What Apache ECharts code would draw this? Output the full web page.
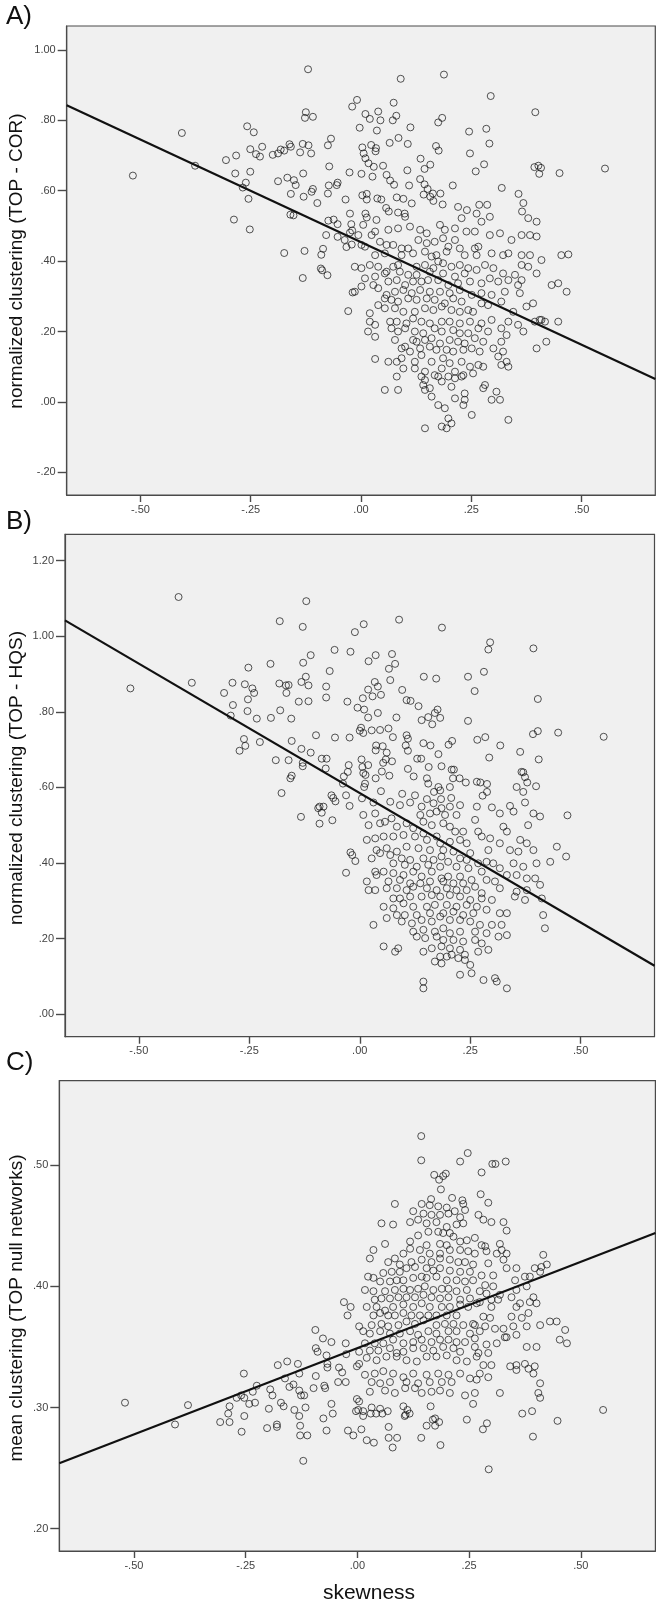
<!DOCTYPE html>
<html><head><meta charset="utf-8">
<script src="https://cdn.jsdelivr.net/npm/echarts@6/dist/echarts.min.js"></script>
<style>html,body{margin:0;padding:0;background:#fff}#c{width:664px;height:1606px}</style>
</head><body><div id="c"></div>
<script>
const xRange = [-0.667, 0.667];
const xTicks = [-0.5, -0.25, 0, 0.25, 0.5];
const yRangeA = [-0.2645, 1.068];
const yTicksA = [-0.2, 0, 0.2, 0.4, 0.6, 0.8, 1.0];
const yRangeB = [-0.060, 1.270];
const yTicksB = [0, 0.2, 0.4, 0.6, 0.8, 1.0, 1.2];
const yRangeC = [0.1816, 0.5697];
const yTicksC = [0.2, 0.3, 0.4, 0.5];
const panelLabels = ['A)', 'B)', 'C)'];
const yTitles = ['normalized clustering (TOP - COR)', 'normalized clustering (TOP - HQS)', 'mean clustering (TOP null networks)'];
const xTitle = 'skewness';
const fitA = [[-0.667, 0.843], [0.667, 0.065]];
const fitB = [[-0.667, 1.042], [0.667, 0.128]];
const fitC = [[-0.667, 0.254], [0.667, 0.444]];

const ptsA = [[-0.120,0.945],[0.188,0.930],[0.090,0.918],[0.294,0.869],[-0.009,0.858],[0.074,0.850],[-0.020,0.839],[0.395,0.823],[-0.125,0.823],[-0.109,0.810],[-0.127,0.807],[0.010,0.818],[0.020,0.804],[0.039,0.825],[0.044,0.800],[0.080,0.813],[0.072,0.800],[0.184,0.807],[0.175,0.794],[-0.406,0.764],[0.112,0.780],[-0.003,0.779],[0.036,0.771],[0.245,0.768],[0.284,0.776],[-0.258,0.783],[-0.243,0.766],[0.085,0.750],[-0.068,0.748],[0.065,0.736],[0.106,0.733],[0.291,0.734],[-0.075,0.729],[-0.132,0.733],[-0.119,0.729],[-0.162,0.732],[-0.159,0.725],[-0.224,0.725],[-0.251,0.718],[-0.174,0.714],[-0.182,0.717],[-0.188,0.706],[-0.200,0.702],[-0.238,0.704],[-0.229,0.697],[-0.283,0.700],[-0.306,0.687],[-0.138,0.709],[-0.113,0.706],[0.003,0.723],[0.023,0.730],[0.034,0.721],[0.033,0.712],[0.006,0.706],[0.010,0.692],[0.170,0.727],[0.176,0.714],[0.247,0.706],[0.017,0.678],[0.135,0.691],[0.279,0.675],[0.157,0.674],[-0.072,0.669],[-0.376,0.671],[0.393,0.667],[0.402,0.671],[0.408,0.665],[0.553,0.663],[-0.517,0.643],[0.450,0.650],[0.404,0.648],[0.029,0.668],[0.050,0.671],[0.144,0.662],[0.105,0.658],[0.260,0.655],[-0.285,0.649],[-0.251,0.654],[-0.131,0.649],[-0.026,0.652],[0.001,0.648],[0.026,0.640],[0.058,0.645],[0.066,0.629],[0.134,0.633],[-0.188,0.627],[-0.167,0.637],[-0.152,0.630],[-0.148,0.616],[-0.261,0.623],[-0.268,0.609],[-0.053,0.623],[-0.055,0.616],[-0.073,0.615],[-0.109,0.605],[-0.112,0.597],[0.319,0.608],[0.208,0.615],[0.144,0.618],[0.151,0.605],[0.109,0.615],[0.075,0.617],[-0.255,0.577],[-0.159,0.591],[-0.130,0.583],[-0.099,0.565],[-0.075,0.592],[-0.035,0.575],[0.003,0.587],[0.013,0.591],[0.013,0.575],[0.037,0.578],[0.046,0.575],[0.081,0.581],[0.096,0.577],[0.115,0.564],[0.142,0.589],[0.157,0.583],[0.163,0.592],[0.180,0.592],[0.185,0.561],[0.164,0.571],[0.357,0.591],[0.368,0.565],[0.220,0.554],[0.240,0.545],[0.268,0.560],[0.286,0.560],[0.365,0.541],[-0.288,0.518],[-0.252,0.490],[-0.160,0.532],[-0.153,0.530],[-0.025,0.535],[0.010,0.535],[0.084,0.538],[0.099,0.535],[0.057,0.551],[0.063,0.541],[0.262,0.535],[-0.074,0.515],[-0.062,0.518],[-0.053,0.505],[-0.022,0.505],[-0.020,0.487],[-0.025,0.481],[-0.079,0.474],[-0.053,0.469],[-0.037,0.460],[-0.033,0.440],[-0.021,0.447],[-0.174,0.423],[-0.128,0.429],[-0.086,0.435],[-0.090,0.418],[-0.091,0.379],[-0.088,0.374],[-0.076,0.360],[-0.132,0.352],[-0.019,0.311],[-0.029,0.258],
[0.013,0.524],[0.035,0.517],[0.100,0.526],[0.111,0.498],[0.134,0.489],[0.149,0.479],[0.179,0.503],[0.190,0.489],[0.213,0.493],[0.228,0.522],[0.239,0.484],[0.258,0.484],[0.273,0.512],[0.292,0.526],[0.292,0.474],[0.315,0.479],[0.341,0.460],[0.364,0.474],[0.379,0.522],[0.398,0.512],[0.398,0.470],[0.383,0.474],[0.005,0.503],[0.032,0.484],[0.062,0.489],[0.043,0.455],[0.084,0.493],[-0.006,0.474],
[0.024,0.474],[0.001,0.446],[0.009,0.441],[0.058,0.446],[0.073,0.446],[0.092,0.436],[0.107,0.436],[0.130,0.460],[0.149,0.451],[0.167,0.455],[0.186,0.465],[0.198,0.441],[0.213,0.460],[0.224,0.436],[0.258,0.436],[0.266,0.441],[0.296,0.422],[0.322,0.417],[0.334,0.422],[0.364,0.417],[0.383,0.417],[0.409,0.403],[0.454,0.417],[0.470,0.419],[0.032,0.417],[0.054,0.422],[0.092,0.417],[0.118,0.422],[0.145,0.427],[0.171,0.417],[0.194,0.427],[0.235,0.417],[0.262,0.417],[0.175,0.399],[0.160,0.413],
[-0.014,0.384],[0.001,0.380],[0.020,0.389],[0.039,0.384],[0.058,0.370],[0.073,0.384],[0.084,0.389],[0.126,0.384],[0.145,0.389],[0.164,0.380],[0.186,0.394],[0.205,0.384],[0.224,0.389],[0.243,0.380],[0.262,0.375],[0.281,0.389],[0.300,0.380],[0.322,0.365],[0.349,0.361],[0.364,0.389],[0.379,0.384],[0.398,0.365],[0.009,0.351],[0.032,0.356],[0.054,0.365],[0.088,0.370],[0.107,0.361],[0.126,0.361],[0.156,0.370],[0.186,0.365],[0.213,0.356],[0.235,0.365],[0.292,0.351],
[-0.014,0.313],[0.001,0.328],[0.028,0.332],[0.039,0.323],[0.062,0.342],[0.081,0.346],[0.100,0.332],[0.118,0.342],[0.137,0.342],[0.152,0.346],[0.175,0.346],[0.198,0.332],[0.220,0.337],[0.247,0.342],[0.273,0.337],[0.311,0.342],[0.334,0.346],[0.356,0.332],[0.364,0.346],[0.432,0.332],[0.447,0.337],[0.466,0.313],[0.058,0.304],[0.077,0.313],[0.096,0.318],[0.115,0.309],[0.134,0.318],[0.156,0.313],[0.179,0.313],[0.201,0.309],[0.224,0.318],[0.251,0.304],[0.273,0.309],[0.296,0.304],[0.326,0.313],[0.360,0.309],
[0.039,0.275],[0.054,0.294],[0.069,0.290],[0.084,0.285],[0.107,0.294],[0.126,0.290],[0.149,0.294],[0.167,0.290],[0.190,0.280],[0.209,0.294],[0.228,0.285],[0.243,0.261],[0.273,0.280],[0.288,0.275],[0.318,0.285],[0.345,0.256],[0.375,0.271],[0.390,0.280],[0.409,0.233],[0.054,0.266],[0.077,0.266],[0.096,0.256],[0.122,0.256],[0.145,0.266],[0.164,0.261],[0.183,0.271],[0.205,0.261],[0.224,0.256],[0.254,0.256],[0.020,0.252],
[0.020,0.228],[0.032,0.219],[0.066,0.228],[0.081,0.228],[0.103,0.223],[0.118,0.237],[0.137,0.228],[0.156,0.223],[0.183,0.228],[0.201,0.228],[0.224,0.223],[0.247,0.228],[0.273,0.223],[0.296,0.233],[0.334,0.228],[0.356,0.219],[0.368,0.200],[0.394,0.228],[0.405,0.233],[0.417,0.228],[0.447,0.228],[0.016,0.200],[0.032,0.185],[0.069,0.209],[0.084,0.200],[0.100,0.209],[0.122,0.200],[0.141,0.195],[0.167,0.209],[0.183,0.200],[0.209,0.204],[0.224,0.195],[0.243,0.195],[0.266,0.209],[0.288,0.200],[0.318,0.209],
[0.077,0.176],[0.100,0.157],[0.118,0.176],[0.126,0.171],[0.145,0.176],[0.160,0.181],[0.179,0.166],[0.201,0.176],[0.220,0.171],[0.235,0.166],[0.258,0.181],[0.277,0.171],[0.300,0.152],[0.318,0.171],[0.330,0.190],[0.398,0.152],[0.420,0.171],[0.092,0.152],[0.111,0.143],[0.134,0.152],[0.156,0.157],[0.171,0.148],[0.194,0.148],[0.209,0.143],[0.232,0.148],[0.251,0.152],[0.269,0.143],[0.311,0.129],[0.322,0.143],
[0.032,0.122],[0.062,0.114],[0.081,0.114],[0.092,0.124],[0.122,0.114],[0.137,0.133],[0.160,0.114],[0.186,0.124],[0.201,0.110],[0.228,0.114],[0.247,0.100],[0.266,0.105],[0.277,0.100],[0.318,0.105],[0.334,0.100],[0.330,0.114],[0.096,0.095],[0.122,0.095],[0.145,0.086],[0.183,0.095],[0.213,0.086],[0.232,0.076],[0.254,0.081],
[0.081,0.072],[0.137,0.072],[0.145,0.062],[0.167,0.076],[0.175,0.072],[0.198,0.072],[0.213,0.067],[0.228,0.072],[0.141,0.048],[0.156,0.039],[0.183,0.058],[0.205,0.043],[0.281,0.048],[0.277,0.039],[0.307,0.029],[0.315,0.006],[0.054,0.034],[0.084,0.034],[0.145,0.034],
[0.160,0.015],[0.175,-0.009],[0.190,-0.018],[0.213,0.010],[0.235,0.024],[0.235,0.006],[0.232,-0.009],[0.251,-0.037],[0.296,0.006],[0.334,-0.051],[0.198,-0.047],[0.145,-0.075],[0.183,-0.070],[0.194,-0.075],[0.205,-0.061]];

const ptsB = [[-0.410,1.104],[-0.121,1.093],[-0.181,1.040],[-0.129,1.025],[0.089,1.044],[0.009,1.032],[0.186,1.023],[-0.011,1.011],[0.295,0.984],[0.291,0.965],[0.393,0.968],[-0.057,0.964],[-0.021,0.959],[-0.111,0.950],[0.036,0.950],[0.073,0.953],[0.020,0.934],[0.080,0.927],[-0.202,0.927],[-0.128,0.930],[0.066,0.914],[-0.252,0.917],[-0.068,0.908],[0.281,0.906],[-0.122,0.893],[0.145,0.893],[0.173,0.888],[0.245,0.893],[0.069,0.884],[-0.519,0.862],[-0.380,0.877],[-0.288,0.877],[-0.260,0.873],[-0.182,0.875],[-0.167,0.870],[-0.161,0.871],[-0.132,0.879],[-0.116,0.870],[-0.076,0.867],[0.034,0.879],[0.041,0.867],[-0.243,0.862],[-0.239,0.850],[-0.166,0.850],[-0.307,0.850],[-0.253,0.833],[0.096,0.858],[0.260,0.855],[0.019,0.859],[0.029,0.841],[0.048,0.845],[0.007,0.836],[-0.287,0.818],[-0.138,0.827],[-0.116,0.828],[-0.076,0.838],[-0.028,0.827],[0.106,0.831],[0.115,0.829],[0.133,0.815],[0.403,0.834],[-0.005,0.811],[-0.254,0.802],[-0.180,0.804],[0.041,0.797],[0.010,0.806],[-0.292,0.790],[-0.233,0.782],[-0.201,0.784],[-0.155,0.782],[0.019,0.785],[0.083,0.785],[0.140,0.778],[0.155,0.786],[0.164,0.767],[0.170,0.797],[0.176,0.806],[0.182,0.784],[0.245,0.776],[0.003,0.758],[0.000,0.750],[0.027,0.751],[0.046,0.752],[0.065,0.756],[0.449,0.745],[0.403,0.749],[0.392,0.741],[0.552,0.734],[-0.099,0.738],[-0.023,0.732],[-0.056,0.732],[0.008,0.744],[0.075,0.733],[0.106,0.738],[0.109,0.729],[0.266,0.726],[0.284,0.733],[-0.262,0.728],[-0.259,0.710],[-0.272,0.697],[-0.226,0.720],[-0.154,0.723],[-0.132,0.702],[-0.111,0.692],[0.144,0.717],[0.160,0.711],[0.201,0.713],[0.209,0.723],[0.318,0.711],[0.363,0.694],[0.405,0.674],[0.037,0.711],[0.052,0.709],[0.036,0.698],[0.061,0.692],[0.059,0.674],[0.104,0.711],[0.109,0.697],[0.130,0.676],[0.139,0.676],[0.178,0.688],[0.293,0.679],[-0.190,0.672],[-0.161,0.672],[-0.129,0.665],[-0.129,0.656],[-0.086,0.676],[-0.075,0.676],[-0.077,0.650],[-0.025,0.659],[-0.027,0.641],[0.004,0.674],[0.006,0.654],[0.019,0.659],[0.053,0.665],[0.050,0.642],[0.073,0.669],[0.109,0.649],[0.156,0.654],[0.185,0.656],[0.208,0.647],[0.213,0.647],[0.366,0.641],[0.370,0.640],[-0.036,0.629],[0.008,0.638],[0.013,0.633],[0.036,0.624],[0.067,0.631],[0.122,0.629],[0.211,0.624],[0.226,0.624],[0.240,0.613],[0.265,0.615],[0.273,0.613],[0.374,0.627],[0.379,0.613],[0.152,0.624],[0.155,0.610],[-0.157,0.624],[-0.154,0.631],[-0.038,0.610],[0.010,0.601],[0.012,0.610],[0.048,0.590],[0.178,0.601],[0.204,0.601],[0.288,0.609],[0.288,0.588],[0.355,0.601],[0.399,0.603],[0.370,0.588],[-0.177,0.585],[-0.064,0.579],[-0.060,0.572],[-0.031,0.579],[0.278,0.578],[0.168,0.588],[0.182,0.592],[0.125,0.579],[0.096,0.583],[0.005,0.571],[0.152,0.569],[0.184,0.569],[0.207,0.572],[0.470,0.526],[-0.094,0.545],[-0.091,0.549],[-0.082,0.549],[-0.086,0.533],[-0.055,0.563],[-0.023,0.551],[-0.133,0.522],[-0.091,0.504],[-0.062,0.513],[0.467,0.417],[-0.021,0.428],[-0.017,0.421],[-0.031,0.374],[-0.010,0.405],
[0.031,0.560],[0.069,0.562],[0.091,0.553],[0.114,0.560],[0.140,0.549],[0.167,0.558],[0.185,0.545],[0.204,0.549],[0.227,0.553],[0.265,0.549],[0.299,0.547],[0.340,0.551],[0.374,0.560],[0.393,0.531],[0.408,0.523],[0.008,0.527],[0.035,0.531],[0.137,0.527],[0.159,0.531],[0.174,0.536],[0.193,0.527],[0.219,0.527],[0.261,0.514],[0.317,0.531],[0.348,0.536],
[0.020,0.500],[0.046,0.505],[0.057,0.509],[0.072,0.518],[0.084,0.496],[0.106,0.505],[0.121,0.492],[0.144,0.509],[0.163,0.500],[0.189,0.505],[0.204,0.496],[0.216,0.483],[0.234,0.483],[0.268,0.483],[0.325,0.496],[0.333,0.483],[0.381,0.500],
[0.016,0.461],[0.035,0.465],[0.054,0.470],[0.076,0.470],[0.099,0.474],[0.125,0.470],[0.144,0.478],[0.152,0.461],[0.174,0.470],[0.182,0.452],[0.204,0.456],[0.227,0.461],[0.242,0.452],[0.276,0.470],[0.295,0.465],[0.317,0.452],[0.363,0.461],[0.378,0.452],[0.393,0.434],[0.446,0.443],[0.038,0.434],[0.061,0.439],[0.084,0.430],[0.106,0.443],[0.133,0.439],[0.159,0.434],[0.189,0.434],[0.212,0.430],[0.250,0.426],[0.291,0.434],[0.340,0.434],[0.359,0.430],
[0.027,0.412],[0.046,0.426],[0.069,0.421],[0.095,0.412],[0.114,0.408],[0.144,0.412],[0.167,0.408],[0.185,0.417],[0.200,0.403],[0.227,0.412],[0.242,0.408],[0.268,0.399],[0.287,0.403],[0.302,0.399],[0.348,0.399],[0.370,0.390],[0.400,0.399],[0.431,0.403],[0.076,0.399],[0.102,0.395],[0.129,0.390],[0.155,0.395],[0.182,0.390],[0.219,0.390],[0.246,0.386],[0.276,0.377],[0.317,0.386],
[0.035,0.377],[0.054,0.377],[0.076,0.373],[0.099,0.368],[0.121,0.377],[0.140,0.364],[0.163,0.377],[0.185,0.359],[0.200,0.364],[0.227,0.364],[0.253,0.355],[0.287,0.355],[0.306,0.351],[0.333,0.368],[0.355,0.368],[0.378,0.359],[0.397,0.359],[0.016,0.351],[0.038,0.368],[0.065,0.351],[0.091,0.355],[0.114,0.346],[0.137,0.346],[0.159,0.351],[0.189,0.351],[0.212,0.346],[0.234,0.346],
[0.020,0.328],[0.035,0.328],[0.061,0.333],[0.084,0.333],[0.106,0.328],[0.121,0.337],[0.152,0.333],[0.174,0.328],[0.197,0.333],[0.219,0.328],[0.242,0.328],[0.261,0.337],[0.276,0.320],[0.317,0.333],[0.355,0.324],[0.378,0.328],[0.408,0.342],[0.076,0.306],[0.091,0.306],[0.114,0.311],[0.140,0.311],[0.163,0.315],[0.182,0.311],[0.204,0.315],[0.227,0.311],[0.250,0.302],[0.276,0.306],[0.299,0.302],[0.351,0.311],[0.374,0.302],[0.412,0.306],
[0.054,0.284],[0.076,0.280],[0.099,0.293],[0.121,0.284],[0.152,0.284],[0.170,0.289],[0.197,0.289],[0.219,0.284],[0.242,0.289],[0.265,0.284],[0.287,0.276],[0.159,0.267],[0.189,0.267],[0.212,0.271],[0.234,0.262],[0.257,0.267],[0.084,0.262],[0.102,0.262],[0.129,0.262],[0.317,0.267],[0.333,0.267],[0.415,0.262],
[0.031,0.236],[0.061,0.254],[0.095,0.245],[0.118,0.240],[0.140,0.249],[0.163,0.245],[0.182,0.258],[0.204,0.249],[0.227,0.249],[0.250,0.245],[0.272,0.236],[0.299,0.236],[0.321,0.236],[0.121,0.218],[0.144,0.223],[0.170,0.218],[0.189,0.227],[0.204,0.214],[0.227,0.218],[0.261,0.218],[0.287,0.214],[0.314,0.205],[0.333,0.209],[0.419,0.227],
[0.129,0.205],[0.148,0.201],[0.174,0.205],[0.189,0.196],[0.212,0.196],[0.234,0.192],[0.261,0.196],[0.276,0.187],[0.291,0.170],[0.080,0.165],[0.087,0.174],[0.054,0.179],[0.144,0.165],[0.163,0.174],[0.185,0.179],[0.204,0.174],[0.227,0.170],[0.268,0.165],
[0.182,0.152],[0.197,0.152],[0.208,0.157],[0.238,0.157],[0.238,0.143],[0.170,0.139],[0.185,0.134],[0.250,0.130],[0.223,0.148],
[0.227,0.104],[0.253,0.108],[0.144,0.086],[0.144,0.068],[0.280,0.090],[0.306,0.095],[0.310,0.086],[0.333,0.068]];

const ptsC = [[0.143,0.524],[0.143,0.504],[0.247,0.510],[0.230,0.503],[0.302,0.501],[0.309,0.501],[0.332,0.503],[0.278,0.494],[0.172,0.492],[0.198,0.493],[0.192,0.491],[0.183,0.488],[0.187,0.480],[0.276,0.476],[0.165,0.472],[0.212,0.473],[0.235,0.471],[0.465,0.364],[0.469,0.353],[0.550,0.298],
[-0.030,0.387],[-0.015,0.383],[-0.022,0.376],[0.004,0.367],[-0.094,0.364],[-0.077,0.357],[-0.058,0.354],[-0.026,0.353],[-0.093,0.349],[-0.089,0.346],[-0.069,0.343],[-0.025,0.344],[0.004,0.346],[-0.178,0.335],[-0.157,0.338],[-0.133,0.336],[-0.130,0.328],[-0.067,0.336],[-0.067,0.333],[-0.041,0.333],[-0.034,0.329],[-0.001,0.334],[0.004,0.336],[-0.254,0.328],[-0.225,0.318],[-0.234,0.313],[-0.260,0.310],[-0.253,0.308],[-0.270,0.308],[-0.286,0.301],[-0.289,0.295],[-0.242,0.303],[-0.229,0.304],[-0.307,0.288],[-0.286,0.288],[-0.253,0.293],[-0.259,0.280],[-0.520,0.304],[-0.379,0.302],[-0.408,0.286],[-0.195,0.315],[-0.190,0.310],[-0.171,0.304],[-0.165,0.301],[-0.198,0.299],[-0.202,0.283],[-0.180,0.284],[-0.180,0.286],[-0.162,0.324],[-0.152,0.317],[-0.143,0.319],[-0.130,0.314],[-0.126,0.310],[-0.119,0.310],[-0.116,0.300],[-0.141,0.298],[-0.130,0.293],[-0.128,0.285],[-0.128,0.277],[-0.112,0.277],[-0.121,0.256],[-0.093,0.326],[-0.074,0.318],[-0.072,0.316],[-0.098,0.316],[-0.058,0.303],[-0.055,0.295],[-0.076,0.291],[-0.069,0.281],[-0.043,0.321],[-0.026,0.321],[-0.021,0.281],[-0.009,0.277],[0.009,0.282],[0.002,0.298],[-0.001,0.307],[0.004,0.305],[-0.003,0.297],
[0.013,0.297],[0.013,0.293],[0.021,0.273],[0.032,0.300],[0.037,0.271],[0.030,0.295],[0.042,0.295],[0.051,0.299],[0.056,0.295],[0.068,0.297],[0.070,0.284],[0.070,0.275],[0.079,0.267],[0.089,0.275],[0.103,0.301],[0.106,0.293],[0.108,0.294],[0.112,0.298],[0.117,0.295],[0.164,0.301],[0.169,0.290],[0.174,0.291],[0.155,0.285],[0.174,0.285],[0.183,0.288],[0.143,0.275],[0.186,0.269],[0.259,0.303],[0.245,0.290],[0.281,0.282],[0.290,0.287],[0.294,0.249],[0.369,0.295],[0.391,0.297],[0.393,0.276],[0.448,0.289],
[0.084,0.468],[0.144,0.468],[0.162,0.467],[0.181,0.466],[0.200,0.465],[0.237,0.468],[0.293,0.469],[0.125,0.462],[0.148,0.460],[0.166,0.459],[0.185,0.459],[0.204,0.460],[0.218,0.462],[0.230,0.457],[0.241,0.463],[0.271,0.459],[0.282,0.455],[0.300,0.453],[0.327,0.453],[0.334,0.446],
[0.054,0.452],[0.080,0.451],[0.118,0.453],[0.136,0.455],[0.155,0.452],[0.177,0.453],[0.200,0.449],[0.222,0.451],[0.237,0.452],[0.192,0.444],[0.207,0.444],[0.159,0.445],[0.181,0.445],[0.136,0.442],[0.118,0.437],[0.062,0.435],[0.036,0.430],[0.103,0.427],[0.118,0.431],
[0.215,0.441],[0.230,0.437],[0.245,0.438],[0.263,0.440],[0.278,0.434],[0.286,0.433],[0.185,0.435],[0.200,0.434],[0.155,0.434],[0.140,0.430],[0.162,0.427],[0.185,0.427],[0.207,0.430],[0.230,0.430],[0.248,0.429],[0.263,0.427],[0.289,0.429],[0.319,0.435],[0.323,0.430],[0.334,0.427],[0.312,0.427],[0.416,0.426],
[0.028,0.423],[0.069,0.420],[0.084,0.423],[0.095,0.418],[0.121,0.420],[0.144,0.422],[0.166,0.420],[0.185,0.423],[0.207,0.422],[0.226,0.420],[0.241,0.420],[0.259,0.418],[0.293,0.419],[0.327,0.422],[0.334,0.415],[0.356,0.415],[0.397,0.415],[0.412,0.416],[0.424,0.418],
[0.024,0.408],[0.036,0.407],[0.058,0.411],[0.077,0.412],[0.095,0.412],[0.110,0.415],[0.129,0.416],[0.155,0.415],[0.170,0.413],[0.185,0.415],[0.207,0.413],[0.230,0.412],[0.252,0.412],[0.278,0.409],[0.304,0.409],[0.051,0.404],[0.073,0.404],[0.088,0.405],[0.103,0.405],[0.125,0.407],[0.144,0.408],[0.155,0.407],[0.177,0.408],[0.200,0.405],[0.222,0.405],[0.241,0.404],[0.259,0.405],[0.286,0.401],[0.304,0.400],[0.353,0.405],[0.375,0.408],[0.386,0.408],[0.409,0.412],
[0.017,0.397],[0.036,0.396],[0.062,0.396],[0.084,0.397],[0.103,0.398],[0.118,0.397],[0.136,0.398],[0.151,0.400],[0.170,0.397],[0.189,0.398],[0.204,0.398],[0.222,0.396],[0.245,0.397],[0.274,0.396],[0.289,0.394],[0.319,0.393],[0.356,0.397],[0.379,0.400],[0.394,0.391],[0.039,0.389],[0.054,0.390],[0.073,0.390],[0.092,0.391],[0.110,0.391],[0.129,0.391],[0.148,0.393],[0.166,0.391],[0.185,0.390],[0.204,0.391],[0.230,0.389],[0.252,0.390],[0.274,0.387],[0.300,0.389],[0.315,0.389],[0.345,0.391],[0.364,0.386],[0.386,0.387],[0.401,0.386],
[0.021,0.383],[0.043,0.383],[0.062,0.380],[0.080,0.383],[0.103,0.385],[0.125,0.383],[0.144,0.386],[0.162,0.383],[0.189,0.383],[0.207,0.383],[0.230,0.385],[0.248,0.383],[0.267,0.386],[0.300,0.383],[0.356,0.383],[0.036,0.376],[0.051,0.378],[0.069,0.376],[0.084,0.376],[0.103,0.378],[0.121,0.376],[0.140,0.376],[0.159,0.376],[0.177,0.376],[0.200,0.376],[0.222,0.376],[0.259,0.369],[0.282,0.375],[0.297,0.374],[0.345,0.375],[0.368,0.374],[0.383,0.378],[0.431,0.371],[0.446,0.371],
[0.032,0.368],[0.054,0.369],[0.069,0.367],[0.092,0.368],[0.110,0.371],[0.129,0.369],[0.148,0.372],[0.177,0.368],[0.196,0.369],[0.215,0.369],[0.237,0.368],[0.263,0.368],[0.286,0.367],[0.308,0.365],[0.327,0.365],[0.349,0.367],[0.379,0.367],[0.409,0.368],[0.013,0.363],[0.028,0.361],[0.051,0.363],[0.073,0.361],[0.095,0.361],[0.118,0.363],[0.136,0.360],[0.159,0.363],[0.177,0.361],[0.204,0.363],[0.222,0.363],[0.252,0.361],[0.274,0.363],[0.330,0.358],[0.356,0.360],[0.453,0.356],
[0.017,0.353],[0.039,0.353],[0.058,0.353],[0.080,0.356],[0.103,0.353],[0.125,0.354],[0.144,0.356],[0.166,0.354],[0.185,0.356],[0.204,0.356],[0.222,0.354],[0.241,0.354],[0.263,0.357],[0.289,0.352],[0.312,0.353],[0.334,0.358],[0.028,0.347],[0.047,0.347],[0.073,0.349],[0.088,0.345],[0.103,0.346],[0.125,0.349],[0.148,0.349],[0.170,0.347],[0.192,0.350],[0.215,0.349],[0.230,0.346],[0.263,0.350],[0.271,0.345],[0.293,0.345],[0.379,0.350],[0.401,0.350],
[0.021,0.341],[0.043,0.339],[0.065,0.342],[0.088,0.342],[0.110,0.339],[0.133,0.338],[0.155,0.342],[0.177,0.342],[0.200,0.343],[0.222,0.339],[0.245,0.338],[0.267,0.342],[0.282,0.335],[0.300,0.335],[0.342,0.334],[0.356,0.335],[0.375,0.336],[0.383,0.332],[0.397,0.334],[0.356,0.331],
[0.017,0.327],[0.039,0.328],[0.058,0.330],[0.080,0.328],[0.103,0.325],[0.125,0.328],[0.155,0.327],[0.181,0.328],[0.204,0.327],[0.230,0.328],[0.252,0.324],[0.274,0.328],[0.293,0.325],[0.394,0.328],[0.409,0.320],[0.032,0.321],[0.051,0.320],[0.073,0.321],[0.110,0.321],[0.136,0.320],[0.162,0.321],[0.189,0.321],[0.211,0.321],[0.267,0.323],
[0.028,0.313],[0.062,0.314],[0.084,0.312],[0.107,0.316],[0.129,0.316],[0.144,0.312],[0.166,0.313],[0.185,0.314],[0.207,0.312],[0.241,0.310],[0.263,0.312],[0.319,0.312],[0.405,0.312],[0.409,0.308]];

function fmt(v) {
  const s = Math.abs(v).toFixed(2);
  return (v < -1e-9 ? '-' : '') + (s.charAt(0) === '0' ? s.slice(1) : s);
}

const FONT = 'Liberation Sans, Arial, Helvetica, sans-serif';
const grids = [
  {left: 66.7, top: 26, width: 588.6, height: 469},
  {left: 65, top: 534.3, width: 589.5, height: 502.4},
  {left: 59.3, top: 1080.7, width: 596.1, height: 470.3}
];
const yRanges = [yRangeA, yRangeB, yRangeC];
const yTickSets = [yTicksA, yTicksB, yTicksC];
const pts = [ptsA, ptsB, ptsC];
const fits = [fitA, fitB, fitC];

const option = {
  animation: false,
  backgroundColor: '#ffffff',
  grid: grids.map(g => Object.assign({show: true, backgroundColor: '#f0f0f0', borderColor: '#4a4a4a', borderWidth: 1.2, containLabel: false}, g)),
  xAxis: grids.map((g, i) => ({
    type: 'value', gridIndex: i, min: xRange[0], max: xRange[1],
    axisLine: {show: true, onZero: false, lineStyle: {color: '#4a4a4a', width: 1.2}},
    axisTick: {show: true, customValues: xTicks, length: 7, lineStyle: {color: '#4a4a4a', width: 1.4}},
    axisLabel: {show: true, customValues: xTicks, formatter: fmt, margin: 9, color: '#444', fontSize: 11, fontFamily: FONT},
    splitLine: {show: false}
  })),
  yAxis: grids.map((g, i) => ({
    type: 'value', gridIndex: i, min: yRanges[i][0], max: yRanges[i][1],
    axisLine: {show: true, onZero: false, lineStyle: {color: '#4a4a4a', width: 1.2}},
    axisTick: {show: true, customValues: yTickSets[i], length: 9, lineStyle: {color: '#4a4a4a', width: 1.4}},
    axisLabel: {show: true, customValues: yTickSets[i], formatter: fmt, margin: 11, color: '#444', fontSize: 11, fontFamily: FONT},
    splitLine: {show: false}
  })),
  series: [].concat(
    pts.map((d, i) => ({
      type: 'scatter', xAxisIndex: i, yAxisIndex: i, data: d, symbol: 'circle', symbolSize: 7, silent: true,
      itemStyle: {color: 'rgba(0,0,0,0)', borderColor: 'rgba(20,20,20,0.9)', borderWidth: 1}, z: 2
    })),
    fits.map((d, i) => ({
      type: 'line', xAxisIndex: i, yAxisIndex: i, data: d, showSymbol: false, silent: true,
      lineStyle: {color: '#111', width: 2.2}, z: 3
    }))
  ),
  graphic: [
    {type: 'text', x: 6, y: 17, style: {text: panelLabels[0], font: '26px ' + FONT, fill: '#111', textVerticalAlign: 'middle'}},
    {type: 'text', x: 6, y: 522, style: {text: panelLabels[1], font: '26px ' + FONT, fill: '#111', textVerticalAlign: 'middle'}},
    {type: 'text', x: 6, y: 1063, style: {text: panelLabels[2], font: '26px ' + FONT, fill: '#111', textVerticalAlign: 'middle'}},
    {type: 'text', x: 17, y: 261, rotation: Math.PI / 2, style: {text: yTitles[0], font: '19px ' + FONT, fill: '#111', textAlign: 'center', textVerticalAlign: 'middle'}},
    {type: 'text', x: 17, y: 778, rotation: Math.PI / 2, style: {text: yTitles[1], font: '19px ' + FONT, fill: '#111', textAlign: 'center', textVerticalAlign: 'middle'}},
    {type: 'text', x: 17, y: 1308, rotation: Math.PI / 2, style: {text: yTitles[2], font: '19px ' + FONT, fill: '#111', textAlign: 'center', textVerticalAlign: 'middle'}},
    {type: 'text', x: 369, y: 1593, style: {text: xTitle, font: '21px ' + FONT, fill: '#111', textAlign: 'center', textVerticalAlign: 'middle'}}
  ]
};
const chart = echarts.init(document.getElementById('c'), null, {renderer: 'canvas'});
chart.setOption(option);
</script></body></html>
